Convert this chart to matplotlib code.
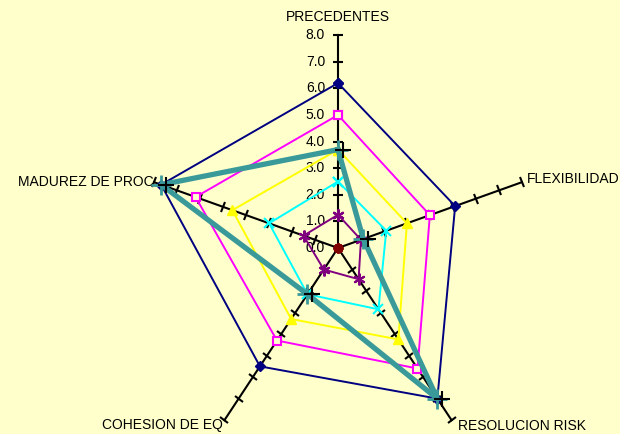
import numpy as np
import matplotlib
matplotlib.use("Agg")
import matplotlib.pyplot as plt
from matplotlib.markers import MarkerStyle
from matplotlib.transforms import Affine2D, ScaledTranslation

categories = ["PRECEDENTES", "FLEXIBILIDAD", "RESOLUCION RISK", "COHESION DE EQ", "MADUREZ DE PROC"]
scale_ticks = [0, 1, 2, 3, 4, 5, 6, 7, 8]
scale_labels = ["0.0", "1.0", "2.0", "3.0", "4.0", "5.0", "6.0", "7.0", "8.0"]

navy_vals = [6.2, 5.1, 7.0, 5.5, 7.7]
magenta_vals = [5.0, 4.0, 5.6, 4.3, 6.2]
yellow_vals = [3.7, 3.0, 4.25, 3.3, 4.6]
cyan_vals = [2.5, 2.1, 2.85, 2.15, 3.0]
purple_vals = [1.25, 1.0, 1.45, 1.0, 1.5]
maroon_vals = [0, 0, 0, 0, 0]
teal_vals = [3.7, 1.1, 7.0, 2.15, 7.7]

BG = "#FFFFCC"
W, H = 620, 434
cx, cy = 338, 248          # centre of the web, pixels
sx, sy = 24.15, 26.6       # pixels per unit, horizontal / vertical
vmax = 8

angles = np.deg2rad(90 - 72 * np.arange(len(categories)))


def to_xy(vals):
    v = np.asarray(vals, dtype=float)
    x = v * np.cos(angles)
    y = v * np.sin(angles)
    return np.append(x, x[0]), np.append(y, y[0])


plt.rcParams["font.family"] = ["Liberation Sans", "DejaVu Sans"]

fig = plt.figure(figsize=(W / 100, H / 100), dpi=100, facecolor=BG)
ax = fig.add_axes([0, 0, 1, 1])
ax.set_facecolor(BG)
ax.set_xlim(-cx / sx, (W - cx) / sx)
ax.set_ylim(-(H - cy) / sy, cy / sy)
ax.axis("off")

# spokes with crossing tick marks
for a in angles:
    ax.plot([0, vmax * np.cos(a)], [0, vmax * np.sin(a)], color="black", lw=1.5, zorder=1)
    phi = np.degrees(np.arctan2(np.sin(a) * sy, np.cos(a) * sx))
    tick = MarkerStyle("_", transform=Affine2D().rotate_deg(phi + 90))
    t = np.array(scale_ticks[1:], dtype=float)
    ax.plot(t * np.cos(a), t * np.sin(a), ls="none", marker=tick, ms=7,
            mew=1.5, color="black", zorder=1)

# value labels along the top spoke
for v, lab in zip(scale_ticks, scale_labels):
    ax.annotate(lab, (0, v), xytext=(-13, 0), textcoords="offset pixels",
                ha="right", va="center", fontsize=10, color="black")

# category labels at the spoke ends
label_offsets = [(0, 18, "center"), (5, 3, "left"), (6, -6, "left"),
                 (-2, -5, "right"), (-1, 0, "right")]
for a, name, (dx, dy, ha) in zip(angles, categories, label_offsets):
    ax.annotate(name, (vmax * np.cos(a), vmax * np.sin(a)), xytext=(dx, dy),
                textcoords="offset pixels", ha=ha, va="center",
                fontsize=10, color="black")

x, y = to_xy(navy_vals)
ax.plot(x, y, color="#000080", lw=1.4, marker="D", ms=5.5, zorder=3)
x, y = to_xy(magenta_vals)
ax.plot(x, y, color="#FF00FF", lw=1.4, marker="s", ms=6, mfc=BG, mew=1.5, zorder=3)
x, y = to_xy(yellow_vals)
ax.plot(x, y, color="#FFFF00", lw=1.4, marker="^", ms=7.5, zorder=3)
x, y = to_xy(cyan_vals)
ax.plot(x, y, color="#00FFFF", lw=1.4, marker="x", ms=6.5, mew=1.5, zorder=3)
x, y = to_xy(purple_vals)
ax.plot(x, y, color="#800080", lw=1.4, marker=(6, 2, 0), ms=8.5, mew=1.5, zorder=3)
x, y = to_xy(maroon_vals)
ax.plot(x, y, color="#800000", lw=1.4, marker="o", ms=6, zorder=3)

x, y = to_xy(teal_vals)
ax.plot(x, y, color="#3A9A9A", lw=3.8, zorder=4)
ax.plot(x[:-1], y[:-1], ls="none", marker="+", ms=14, mew=2, color="#3A9A9A", zorder=5)
shift = ax.transData + ScaledTranslation(5 / 100, 0, fig.dpi_scale_trans)
ax.plot(x[:-1], y[:-1], ls="none", marker="+", ms=12, mew=1.5, color="black",
        transform=shift, zorder=5)

fig.savefig("out.png", dpi=100, facecolor=BG)
